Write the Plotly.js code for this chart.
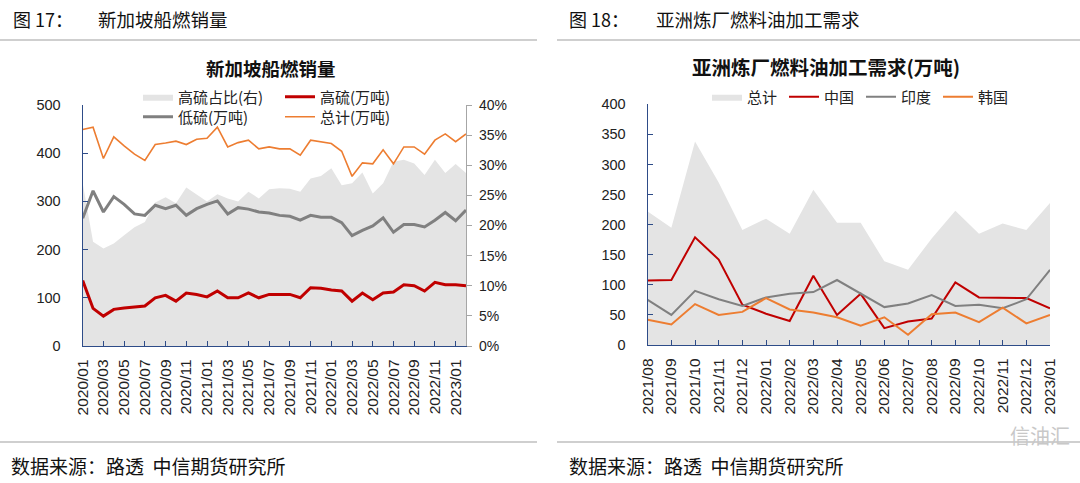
<!DOCTYPE html>
<html>
<head>
<meta charset="utf-8">
<script src="https://cdn.plot.ly/plotly-3.0.1.min.js"></script>
<style>html,body{margin:0;padding:0;background:#fff;}#chart{width:1080px;height:483px;}</style>
</head>
<body>
<div id="chart"></div>
<script>
// ---- Left chart: 新加坡船燃销量 ----
const sgMonths = ['2020/01','2020/02','2020/03','2020/04','2020/05','2020/06','2020/07','2020/08','2020/09','2020/10','2020/11','2020/12',
  '2021/01','2021/02','2021/03','2021/04','2021/05','2021/06','2021/07','2021/08','2021/09','2021/10','2021/11','2021/12',
  '2022/01','2022/02','2022/03','2022/04','2022/05','2022/06','2022/07','2022/08','2022/09','2022/10','2022/11','2022/12',
  '2023/01','2023/02'];
const sgTickLabels = ['2020/01','2020/03','2020/05','2020/07','2020/09','2020/11','2021/01','2021/03','2021/05','2021/07','2021/09','2021/11',
  '2022/01','2022/03','2022/05','2022/07','2022/09','2022/11','2023/01'];
const highSulphurShare = [27.0,17.3,16.2,17.0,18.4,19.7,20.6,23.8,24.7,23.7,26.3,25.1,24.0,25.2,24.5,24.0,25.6,24.5,26.0,26.2,26.1,25.6,27.8,28.2,
  29.5,26.7,27.0,28.8,25.3,27.0,30.6,30.9,30.3,28.4,30.9,28.7,30.2,28.7];
const highSulphur = [136,78,62,76,79,81,83,100,105,93,110,107,102,114,100,100,110,100,107,107,107,100,121,120,116,114,93,110,96,110,112,127,125,114,132,127,127,125];
const lowSulphur = [265,322,278,310,294,274,271,292,285,292,271,285,294,301,274,287,284,278,276,271,269,261,271,267,267,256,229,240,249,266,236,252,252,247,261,277,260,282];
const sgTotal = [449,454,389,434,415,398,385,418,421,425,418,429,431,454,413,422,427,409,413,409,409,396,427,424,420,404,352,380,378,407,378,413,413,398,427,440,424,440];

// ---- Right chart: 亚洲炼厂燃料油加工需求 ----
const asMonths = ['2021/08','2021/09','2021/10','2021/11','2021/12','2022/01','2022/02','2022/03','2022/04','2022/05','2022/06','2022/07',
  '2022/08','2022/09','2022/10','2022/11','2022/12','2023/01'];
const asTotal = [222,195,338,270,191,210,185,258,203,203,139,125,177,223,185,202,191,236];
const china = [107,108,179,142,67,52,40,115,50,85,28,39,44,104,79,79,78,61];
const india = [75,50,90,76,65,79,85,88,108,86,63,69,83,65,67,61,76,125];
const korea = [42,34,68,50,55,78,59,54,46,32,46,17,51,54,38,62,36,50];

const W = 1080, H = 483;
const px = v => v / W;
const py = v => 1 - v / H;
const NAVY = '#2E4C88';
const FONT = 'Liberation Sans, Arial, Noto Sans CJK SC, sans-serif';
const CJK = 'Noto Sans CJK SC, sans-serif';

const traces = [
  {x: sgMonths, y: highSulphurShare, name: '高硫占比(右)', type: 'scatter', mode: 'lines', fill: 'tozeroy',
   fillcolor: '#E4E4E4', line: {width: 0, color: '#E4E4E4'}, xaxis: 'x', yaxis: 'y', legend: 'legend'},
  {x: sgMonths, y: highSulphur, name: '高硫(万吨)', type: 'scatter', mode: 'lines',
   line: {width: 3, color: '#C00000'}, xaxis: 'x', yaxis: 'y2', legend: 'legend'},
  {x: sgMonths, y: lowSulphur, name: '低硫(万吨)', type: 'scatter', mode: 'lines',
   line: {width: 3, color: '#808080'}, xaxis: 'x', yaxis: 'y2', legend: 'legend3'},
  {x: sgMonths, y: sgTotal, name: '总计(万吨)', type: 'scatter', mode: 'lines',
   line: {width: 1.6, color: '#ED7D31'}, xaxis: 'x', yaxis: 'y2', legend: 'legend3'},

  {x: asMonths, y: asTotal, name: '总计', type: 'scatter', mode: 'lines', fill: 'tozeroy',
   fillcolor: '#E4E4E4', line: {width: 0, color: '#E4E4E4'}, xaxis: 'x3', yaxis: 'y3', legend: 'legend2'},
  {x: asMonths, y: china, name: '中国', type: 'scatter', mode: 'lines',
   line: {width: 2, color: '#C00000'}, xaxis: 'x3', yaxis: 'y3', legend: 'legend2'},
  {x: asMonths, y: india, name: '印度', type: 'scatter', mode: 'lines',
   line: {width: 2, color: '#808080'}, xaxis: 'x3', yaxis: 'y3', legend: 'legend2'},
  {x: asMonths, y: korea, name: '韩国', type: 'scatter', mode: 'lines',
   line: {width: 2, color: '#ED7D31'}, xaxis: 'x3', yaxis: 'y3', legend: 'legend2'}
];

const legendBase = {orientation: 'h', xanchor: 'left', yanchor: 'middle', bgcolor: 'rgba(0,0,0,0)',
  font: {family: CJK, size: 15, color: '#222'}, itemwidth: 30, traceorder: 'normal', tracegroupgap: 0};

const layout = {
  width: W, height: H,
  margin: {l: 0, r: 0, t: 0, b: 0, autoexpand: false},
  paper_bgcolor: '#fff', plot_bgcolor: 'rgba(0,0,0,0)',
  showlegend: true,
  font: {family: FONT, size: 13, color: '#222'},
  xaxis: {domain: [px(82.7), px(466)], anchor: 'y', type: 'category', range: [0, sgMonths.length - 1],
    tickmode: 'array', tickvals: sgTickLabels, ticktext: sgTickLabels, tickangle: -90,
    ticks: 'inside', ticklen: 5, tickcolor: NAVY, showline: true, linecolor: NAVY, linewidth: 1.2,
    showgrid: false, zeroline: false, ticklabelstandoff: 6, tickfont: {family: FONT, size: 15.5, color: '#222'}},
  yaxis: {domain: [py(346), py(105)], anchor: 'x', side: 'right', range: [0, 40], dtick: 5, ticksuffix: '%',
    ticks: 'outside', ticklen: 5, tickcolor: '#A6A6A6', showline: true, linecolor: '#A6A6A6', linewidth: 1.2,
    showgrid: false, zeroline: false, ticklabelstandoff: 4, tickfont: {family: FONT, size: 14, color: '#222'}},
  yaxis2: {overlaying: 'y', anchor: 'x', side: 'left', range: [0, 500], dtick: 100,
    ticks: 'inside', ticklen: 5, tickcolor: NAVY, showline: true, linecolor: NAVY, linewidth: 1.2,
    showgrid: false, zeroline: false, ticklabelstandoff: 18, tickfont: {family: FONT, size: 14.5, color: '#222'}},

  xaxis3: {domain: [px(647.7), px(1050)], anchor: 'y3', type: 'category', range: [0, asMonths.length - 1],
    tickangle: -90, ticks: 'inside', ticklen: 5, tickcolor: NAVY, showline: true, linecolor: NAVY, linewidth: 1.2,
    showgrid: false, zeroline: false, ticklabelstandoff: 6, tickfont: {family: FONT, size: 15.5, color: '#222'}},
  yaxis3: {domain: [py(345), py(104.3)], anchor: 'x3', range: [0, 400], dtick: 50,
    ticks: 'inside', ticklen: 5, tickcolor: NAVY, showline: true, linecolor: NAVY, linewidth: 1.2,
    showgrid: false, zeroline: false, ticklabelstandoff: 18, tickfont: {family: FONT, size: 14.5, color: '#222'}},

  legend: Object.assign({}, legendBase, {x: px(138), y: py(97), entrywidth: 97}),
  legend3: Object.assign({}, legendBase, {x: px(138), y: py(117), entrywidth: 97}),
  legend2: Object.assign({}, legendBase, {x: px(707), y: py(97), entrywidth: 32}),

  shapes: [
    {type: 'line', xref: 'paper', yref: 'paper', x0: 0, x1: px(537), y0: py(40), y1: py(40), line: {color: '#BFBFBF', width: 1.5}},
    {type: 'line', xref: 'paper', yref: 'paper', x0: px(557), x1: 1, y0: py(40), y1: py(40), line: {color: '#BFBFBF', width: 1.5}},
    {type: 'line', xref: 'paper', yref: 'paper', x0: 0, x1: px(537), y0: py(442), y1: py(442), line: {color: '#BFBFBF', width: 1.5}},
    {type: 'line', xref: 'paper', yref: 'paper', x0: px(557), x1: 1, y0: py(442), y1: py(442), line: {color: '#BFBFBF', width: 1.5}}
  ],
  annotations: [
    {text: '图 17：', xref: 'paper', yref: 'paper', x: px(11), y: py(19), xanchor: 'left', yanchor: 'middle', showarrow: false,
     font: {family: CJK, size: 18, color: '#111'}},
    {text: '新加坡船燃销量', xref: 'paper', yref: 'paper', x: px(96), y: py(19), xanchor: 'left', yanchor: 'middle', showarrow: false,
     font: {family: CJK, size: 18.5, color: '#111'}},
    {text: '图 18：', xref: 'paper', yref: 'paper', x: px(567), y: py(19), xanchor: 'left', yanchor: 'middle', showarrow: false,
     font: {family: CJK, size: 18, color: '#111'}},
    {text: '亚洲炼厂燃料油加工需求', xref: 'paper', yref: 'paper', x: px(654), y: py(19), xanchor: 'left', yanchor: 'middle', showarrow: false,
     font: {family: CJK, size: 18.5, color: '#111'}},
    {text: '<b>新加坡船燃销量</b>', xref: 'paper', yref: 'paper', x: px(271), y: py(68), xanchor: 'center', yanchor: 'middle', showarrow: false,
     font: {family: CJK, size: 18.5, color: '#111'}},
    {text: '<b>亚洲炼厂燃料油加工需求(万吨)</b>', xref: 'paper', yref: 'paper', x: px(826), y: py(67), xanchor: 'center', yanchor: 'middle', showarrow: false,
     font: {family: CJK, size: 19.5, color: '#111'}},
    {text: '数据来源：路透  中信期货研究所', xref: 'paper', yref: 'paper', x: px(9), y: py(465), xanchor: 'left', yanchor: 'middle', showarrow: false,
     font: {family: CJK, size: 19, color: '#111'}},
    {text: '数据来源：路透  中信期货研究所', xref: 'paper', yref: 'paper', x: px(567), y: py(465), xanchor: 'left', yanchor: 'middle', showarrow: false,
     font: {family: CJK, size: 19, color: '#111'}},
    {text: '信油汇', xref: 'paper', yref: 'paper', x: px(1040), y: py(435), xanchor: 'center', yanchor: 'middle', showarrow: false,
     font: {family: CJK, size: 20, color: '#C8C8C8'}}
  ]
};

Plotly.newPlot('chart', traces, layout, {displayModeBar: false, staticPlot: true});
</script>
</body>
</html>
